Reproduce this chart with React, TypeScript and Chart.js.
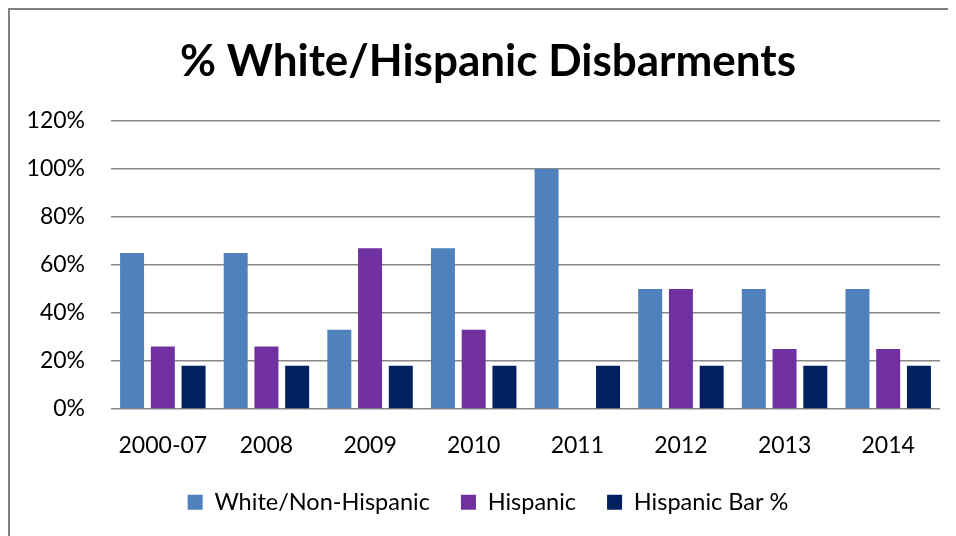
import React, { useEffect, useRef } from 'react';
import { Chart, registerables } from 'chart.js';

Chart.register(...registerables);

const categories = ['2000-07', '2008', '2009', '2010', '2011', '2012', '2013', '2014'];
const whiteNonHispanic = [65, 65, 33, 67, 100, 50, 50, 50];
const hispanic = [26, 26, 67, 33, 0, 50, 25, 25];
const hispanicBarPct = [18, 18, 18, 18, 18, 18, 18, 18];
const yTicks = [0, 20, 40, 60, 80, 100, 120];

const seriesNames = ['White/Non-Hispanic', 'Hispanic', 'Hispanic Bar %'];
const seriesColors = ['#4F81BD', '#7030A0', '#002060'];

const W = 956;
const H = 514;
const FONT = 'Lato, "Open Sans", sans-serif';

export default function App() {
  const ref = useRef<HTMLCanvasElement | null>(null);

  useEffect(() => {
    if (!ref.current) return;
    const chart = new Chart(ref.current, {
      type: 'bar',
      data: {
        labels: categories,
        datasets: [whiteNonHispanic, hispanic, hispanicBarPct].map((d, i) => ({
          label: seriesNames[i],
          data: d,
          backgroundColor: seriesColors[i],
          borderWidth: 0,
          categoryPercentage: 0.89,
          barPercentage: 0.78,
        })),
      },
      options: {
        animation: false,
        responsive: false,
        devicePixelRatio: 1,
        layout: { padding: 0 },
        plugins: {
          title: {
            display: true,
            text: '% White/Hispanic Disbarments',
            color: '#000',
            font: { family: FONT, size: 44, weight: 'bold', lineHeight: 1.2 },
            padding: { top: 25.6, bottom: 32.6 },
          },
          legend: {
            position: 'bottom',
            labels: {
              color: '#000',
              font: { family: FONT, size: 23.5 },
              boxWidth: 15,
              boxHeight: 15,
              padding: 31,
            },
          },
          tooltip: { enabled: false },
        },
        scales: {
          x: {
            grid: { display: false, drawTicks: false },
            border: { display: false },
            ticks: { color: '#000', font: { family: FONT, size: 23 }, padding: 23 },
            afterFit: (s: any) => {
              s.height = 23 + 23 * 1.2;
            },
          },
          y: {
            min: 0,
            max: 120,
            grid: { color: '#888888', lineWidth: 1.5, drawTicks: false },
            border: { display: false },
            ticks: {
              color: '#000',
              font: { family: FONT, size: 23 },
              padding: 26,
              callback: (v: any) => `${v}%`,
            },
            afterBuildTicks: (s: any) => {
              s.ticks = yTicks.map((v) => ({ value: v }));
            },
            afterFit: (s: any) => {
              s.width = 101;
            },
          },
          rightGap: {
            type: 'linear',
            position: 'right',
            display: true,
            grid: { display: false, drawTicks: false },
            border: { display: false },
            ticks: { display: false },
            afterFit: (s: any) => {
              s.width = 26;
            },
          },
        },
      },
    });
    return () => chart.destroy();
  }, []);

  return (
    <div
      style={{
        position: 'relative',
        width: 948,
        height: 528,
        boxSizing: 'border-box',
        borderTop: '2px solid #808080',
        borderLeft: '2px solid #808080',
        overflow: 'hidden',
        background: '#fff',
      }}
    >
      <canvas
        ref={ref}
        width={W}
        height={H}
        style={{ position: 'absolute', left: 0, top: 0, width: W, height: H }}
      />
    </div>
  );
}
